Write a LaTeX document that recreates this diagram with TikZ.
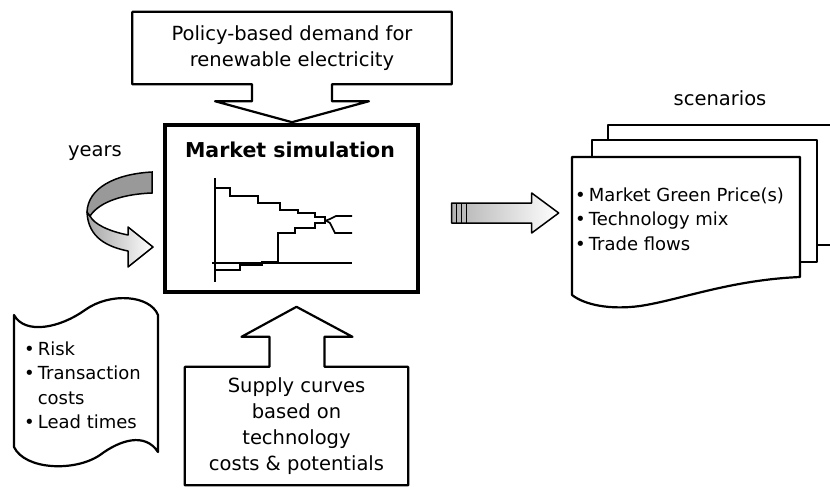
\documentclass[tikz,border=0pt]{standalone}
\usepackage{fontspec}
\setmainfont{DejaVu Sans}
\usetikzlibrary{calc}

\begin{document}
\begin{tikzpicture}[x=1pt, y=-1pt,
  font=\fontsize{19.5}{26}\selectfont,
  callout/.style={draw, line width=2.2pt, line join=round},
  txt/.style={align=center, inner sep=0pt},
  list/.style={inner sep=0pt, font=\fontsize{18}{24.5}\selectfont},
  page/.style={draw, line width=2.2pt, fill=white, line join=round},
  curve/.style={line width=1.7pt},
  shade/.style={draw, line width=1.5pt, line join=round, left color=gray!70, right color=white}
]
  \fill[white] (0,0) rectangle (830,488);
  \useasboundingbox (0,0) rectangle (830,488);

  \node[draw, line width=3.4pt, minimum width=253, minimum height=167] (sim) at (291.5,208.5) {};
  \node[font=\bfseries\fontsize{20.5}{24}\selectfont, anchor=base] (title) at (290,157) {Market simulation};

  \node[txt, minimum width=319, minimum height=72] (demand) at (292,48)
    {Policy-based demand for\\renewable electricity};
  \draw[callout] (demand.north west) -- (demand.north east) -- (demand.south east)
    -- ($(demand.south)+(40,0)$) -- ++(0,17) -- ++(37,0) -- ($(demand.south)+(0,38)$)
    -- ++(-77,-21) -- ++(37,0) -- ++(0,-17) -- (demand.south west) -- cycle;

  \node[txt, minimum width=223, minimum height=118] (supply) at (296.5,426)
    {Supply curves\\based on\\technology\\costs \& potentials};
  \draw[callout] (supply.south west) -- (supply.north west) -- ($(supply.north)+(-27,0)$)
    -- ++(0,-30) -- ++(-28,0) -- ($(supply.north)+(0,-60)$) -- ++(56,30) -- ++(-28,0)
    -- ++(0,30) -- (supply.north east) -- (supply.south east) -- cycle;

  \draw[curve] (215,178) -- (215,282);
  \draw[curve] (212,263) -- (352,263);
  \draw[curve] (215,188) -| (230,196) -| (258,203) -| (280,210) -| (298,213) -| (315,217)
    -| (325,220) -- (330,223) -- (335,233) -- (352,233);
  \draw[curve] (215,270) -| (240,265) -| (262,262) -| (278,233) -| (295,228) -| (315,223)
    -| (325,221) -- (330,219) -- (336,216) -- (352,216);

  \node (years) at (95,153) {years};
  \draw[shade] (87,212) .. controls (88,238) and (108,247) .. (128,251) -- (128,267)
    -- (153,247) -- (128,227) -- (128,235) .. controls (108,231) and (94,224) .. (90,216) -- cycle;
  \draw[draw, line width=1.5pt, fill=gray!80] (152,172) .. controls (115,174) and (88,188) .. (87,212)
    -- (90,216) .. controls (100,201) and (125,194) .. (152,193) -- cycle;

  \draw[page] (14,315) .. controls (25,335) and (60,328) .. (85,310)
    .. controls (110,292) and (150,295) .. (158,315) -- (158,452)
    .. controls (145,432) and (120,440) .. (100,455)
    .. controls (75,472) and (25,470) .. (14,447) -- cycle;
  \node[list, anchor=west] (risk) at (24,387)
    {\begin{tabular}{@{}l@{\hspace{3pt}}l@{}}•&Risk\\•&Transaction\\&costs\\•&Lead times\end{tabular}};

  \coordinate (a0) at ($(sim.east)+(32,4.5)$);
  \draw[shade, left color=gray!60] (a0) ++(0,-10) -- ++(80,0) -- ++(0,-10) -- ++(27,20)
    -- ++(-27,20) -- ++(0,-10) -- ++(-80,0) -- cycle;
  \foreach \dx in {5,10,15} \draw[line width=1.2pt] ($(a0)+(\dx,-10)$) -- ++(0,20);

  \node (scen) at (720,98) {scenarios};
  \draw[page] (830,125) -| (608,245) -- (830,245);
  \draw[page] (592,140) rectangle (817,262);
  \draw[page] (572,157) -- (800,157) -- (800,277)
    .. controls (730,280) and (680,300) .. (640,306)
    .. controls (610,310) and (585,305) .. (572,295) -- cycle;
  \node[list, anchor=west] (result) at (575,221)
    {\begin{tabular}{@{}l@{\hspace{3pt}}l@{}}•&Market Green Price(s)\\•&Technology mix\\•&Trade flows\end{tabular}};
\end{tikzpicture}
\end{document}
